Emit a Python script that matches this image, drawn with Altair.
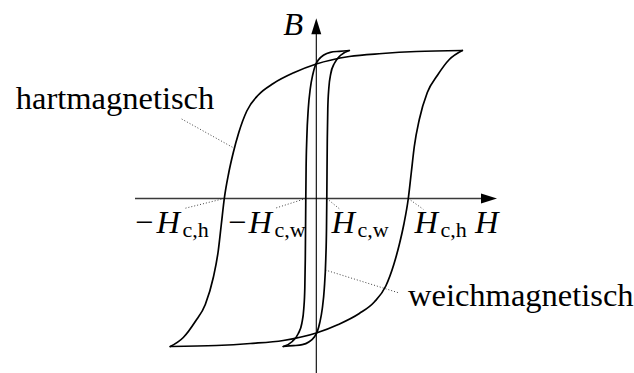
import altair as alt
import pandas as pd

# Magnetisation curves B(H) of a hard and a soft magnetic material,
# in arbitrary units. Each loop is drawn as a descending and an ascending branch.
hard_down_H = [14.6, 10.0, 6.6, 3.3, 0.0, -2.2, -4.3, -5.8, -6.95, -7.75, -8.3, -8.75,
               -9.2, -9.5, -9.8, -10.3, -11.1, -12.1, -13.3, -14.6]
hard_down_B = [14.8, 14.7, 14.5, 14.2, 13.45, 12.6, 11.5, 10.35, 8.75, 6.6, 4.6, 2.6,
               0.0, -2.6, -5.2, -7.9, -10.6, -12.3, -13.9, -14.8]
hard_up_H = [-14.6, -10.0, -6.6, -3.3, 0.0, 2.2, 4.3, 5.8, 6.95, 7.75, 8.3, 8.75,
             9.2, 9.5, 9.8, 10.3, 11.1, 12.1, 13.3, 14.6]
hard_up_B = [-14.8, -14.7, -14.5, -14.2, -13.45, -12.6, -11.5, -10.35, -8.75, -6.6, -4.6, -2.6,
             0.0, 2.6, 5.2, 7.9, 10.6, 12.3, 13.9, 14.8]

soft_down_H = [3.3, 2.3, 1.4, 0.75, 0.2, -0.1, -0.35, -0.6, -0.8, -0.95, -1.02, -1.05,
               -1.1, -1.15, -1.25, -1.45, -1.8, -2.4, -3.3]
soft_down_B = [14.8, 14.72, 14.62, 14.35, 13.85, 13.3, 12.4, 11.0, 9.0, 6.0, 3.0, 0.0,
               -6.0, -9.0, -11.0, -12.5, -13.5, -14.3, -14.8]
soft_up_H = [-3.3, -2.3, -1.4, -0.75, -0.2, 0.1, 0.35, 0.6, 0.8, 0.95, 1.02, 1.05,
             1.1, 1.15, 1.25, 1.45, 1.8, 2.4, 3.3]
soft_up_B = [-14.8, -14.72, -14.62, -14.35, -13.85, -13.3, -12.4, -11.0, -9.0, -6.0, -3.0, 0.0,
             6.0, 9.0, 11.0, 12.5, 13.5, 14.3, 14.8]

# Axis extents (same units)
H_AXIS = [-18.13, 18.07]
B_AXIS = [-17.45, 18.02]

SERIF = "Liberation Serif, Times New Roman, Times, serif"
MAIN_SIZE = 32.5
SUB_SIZE = 22


def branch(name, hs, bs):
    return pd.DataFrame({"H": hs, "B": bs, "branch": name})


curves = pd.concat([
    branch("hard_down", hard_down_H, hard_down_B),
    branch("hard_up", hard_up_H, hard_up_B),
    branch("soft_down", soft_down_H, soft_down_B),
    branch("soft_up", soft_up_H, soft_up_B),
], ignore_index=True)

xs = alt.Scale(domain=[-31.63, 31.77], nice=False, zero=False)
ys = alt.Scale(domain=[-17.45, 19.85], nice=False, zero=False)


def X(field, **kw):
    return alt.X(field, type="quantitative", scale=xs, axis=None, **kw)


def Y(field, **kw):
    return alt.Y(field, type="quantitative", scale=ys, axis=None, **kw)


# every branch is single-valued in H, so a monotone curve along H keeps it smooth
loops = alt.Chart(curves).mark_line(
    interpolate="monotone", color="black", strokeWidth=1.7, strokeCap="round"
).encode(x=X("H"), y=Y("B"), detail="branch:N", order=alt.Order("H:Q"))

# Coordinate axes
axes_df = pd.DataFrame({
    "x": [H_AXIS[0], 0.0], "x2": [H_AXIS[1] - 1.0, 0.0],
    "y": [0.0, B_AXIS[0]], "y2": [0.0, B_AXIS[1] - 1.0],
    "w": [1.4, 1.1],
    "c": ["#3a3a3a", "#000000"],
})
axes = alt.Chart(axes_df).mark_rule().encode(
    x=X("x"), x2="x2:Q", y=Y("y"), y2="y2:Q",
    strokeWidth=alt.StrokeWidth("w:Q", scale=None),
    color=alt.Color("c:N", scale=None),
)

arrow_right = alt.Chart(pd.DataFrame({"x": [H_AXIS[1]], "y": [0.0]})).mark_point(
    shape="M0,0 L-2,-0.62 L-2,0.62 Z", filled=True, color="black", opacity=1, size=256,
    strokeWidth=0,
).encode(x=X("x"), y=Y("y"))
arrow_up = alt.Chart(pd.DataFrame({"x": [0.0], "y": [B_AXIS[1]]})).mark_point(
    shape="M0,0 L-0.62,2 L0.62,2 Z", filled=True, color="black", opacity=1, size=256,
    strokeWidth=0,
).encode(x=X("x"), y=Y("y"))

# Dotted leader lines from the labels to the curves
leaders_df = pd.DataFrame({
    "x": [-13.46, -9.2, -1.05, 1.05, 9.2, 0.9],
    "y": [7.95, 0.0, 0.0, 0.0, 0.0, -7.15],
    "x2": [-8.3, -13.13, -4.13, 2.37, 10.7, 8.2],
    "y2": [5.08, -0.98, -0.98, -1.08, -1.08, -9.42],
})
leaders = alt.Chart(leaders_df).mark_rule(
    color="#444", strokeWidth=1, strokeDash=[1, 2]
).encode(x=X("x"), x2="x2:Q", y=Y("y"), y2="y2:Q")

# Text pieces: upright minus signs, italic symbols, upright subscripts
minus_df = pd.DataFrame({"x": [-18.13, -8.83], "y": [-3.48, -3.48], "t": ["−", "−"]})
italic_df = pd.DataFrame({
    "x": [-15.98, -6.78, 1.52, 9.82, 15.87, -3.3],
    "y": [-3.48, -3.48, -3.48, -3.48, -3.48, 16.35],
    "t": ["H", "H", "H", "H", "H", "B"],
})
sub_df = pd.DataFrame({
    "x": [-13.38, -4.18, 4.12, 12.42],
    "y": [-3.85, -3.85, -3.85, -3.85],
    "t": ["c,h", "c,w", "c,w", "c,h"],
})
words_df = pd.DataFrame({
    "x": [-20.13, 9.17], "y": [8.98, -10.7],
    "t": ["hartmagnetisch", "weichmagnetisch"],
})


def text_layer(df, size, style="normal", align="left"):
    return alt.Chart(df).mark_text(
        align=align, baseline="alphabetic", font=SERIF, fontSize=size,
        fontStyle=style, color="black",
    ).encode(x=X("x"), y=Y("y"), text="t:N")


minus = text_layer(minus_df, MAIN_SIZE)
italics = text_layer(italic_df, MAIN_SIZE, "italic")
subs = text_layer(sub_df, SUB_SIZE)
word_hart = text_layer(words_df.iloc[[0]], MAIN_SIZE, align="center")
word_weich = text_layer(words_df.iloc[[1]], MAIN_SIZE)

chart = alt.layer(
    axes, leaders, loops, arrow_right, arrow_up,
    minus, italics, subs, word_hart, word_weich,
).properties(
    width=634, height=373,
    autosize=alt.AutoSizeParams(type="none"),
    padding=0,
    background="white",
).configure_view(stroke=None)

chart.save("out.html", embed_options={"renderer": "svg", "actions": False})
